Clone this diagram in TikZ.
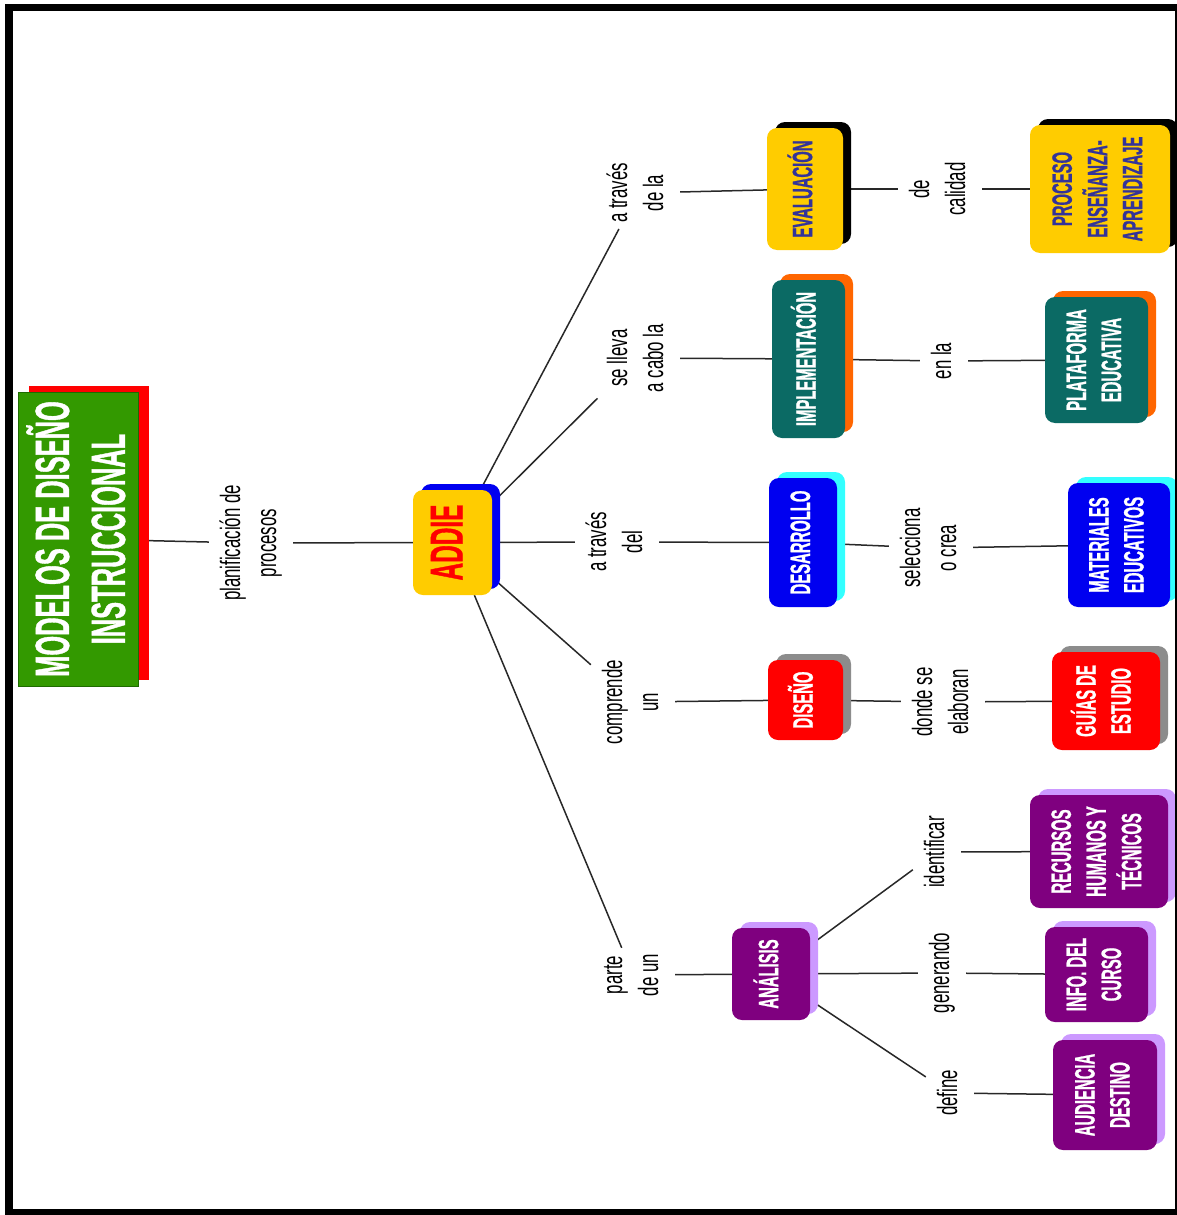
\documentclass[tikz,border=0pt]{standalone}
\usepackage{fontspec}
\usepackage{graphicx}
\usetikzlibrary{shadows,backgrounds}
\setmainfont{Liberation Sans}
\newfontfamily\labfont[FakeStretch=0.6]{Liberation Sans}
\newfontfamily\boxfont[FakeStretch=0.53, BoldFeatures={FakeBold=0.8}]{Liberation Sans}

\definecolor{titlegreen}{HTML}{339900}
\definecolor{titleedge}{HTML}{1E6B00}
\definecolor{cYellow}{HTML}{FFCC00}
\definecolor{cNavy}{HTML}{333399}
\definecolor{cTeal}{HTML}{0B6A64}
\definecolor{cOrange}{HTML}{FF6600}
\definecolor{cBlue}{HTML}{0000F0}
\definecolor{cCyan}{HTML}{33FFFF}
\definecolor{cRed}{HTML}{FF0000}
\definecolor{cGray}{HTML}{8C8C8C}
\definecolor{cPurple}{HTML}{7F007F}
\definecolor{cLilac}{HTML}{CC99FF}
\definecolor{linkgray}{HTML}{282828}

% vertical (bottom-to-top) multi-line text
\newcommand\vtext[1]{\rotatebox{90}{\begin{tabular}{@{}c@{}}#1\end{tabular}}}

\tikzset{
  concept/.style={rounded corners=10pt, inner sep=0pt, text=white,
    font=\boxfont\bfseries\fontsize{28}{35}\selectfont},
  shadowed/.style={general shadow={fill=#1, draw=none, shadow xshift=8pt, shadow yshift=6pt}},
  lab/.style={inner sep=6pt, text=black, font=\labfont\fontsize{28}{36}\selectfont},
  link/.style={draw=linkgray, line width=1.5pt},
}

\begin{document}
\begin{tikzpicture}[x=1pt, y=-1pt]
\useasboundingbox (0,0) rectangle (1177,1215);

% ---- title ----
\node[fill=titlegreen, draw=titleedge, line width=1pt, inner sep=0pt,
      general shadow={fill=cRed, draw=none, shadow xshift=11pt, shadow yshift=6pt},
      minimum width=120pt, minimum height=294pt, text=white,
      font=\boxfont\bfseries\fontsize{48}{56}\selectfont]
  (title) at (78,539)
  {\rotatebox{90}{\raisebox{-6pt}[\height][\depth]{\begin{tabular}{@{}c@{}}MODELOS DE DISEÑO\\INSTRUCCIONAL\end{tabular}}}};

% ---- central concept ----
\node[concept, fill=cYellow, shadowed=cBlue, text=cRed, minimum width=79pt, minimum height=105pt,
      font=\boxfont\bfseries\fontsize{46}{50}\selectfont]
  (addie) at (452.5,542.5) {\vtext{ADDIE}};

% ---- phases ----
\node[concept, fill=cYellow, shadowed=black, text=cNavy, minimum width=76pt, minimum height=122pt]
  (eval) at (805,189) {\vtext{EVALUACIÓN}};
\node[concept, fill=cTeal, shadowed=cOrange, minimum width=73pt, minimum height=158pt]
  (impl) at (808.5,359) {\vtext{IMPLEMENTACIÓN}};
\node[concept, fill=cBlue, shadowed=cCyan, minimum width=68pt, minimum height=129pt]
  (desa) at (803,542.5) {\vtext{DESARROLLO}};
\node[concept, fill=cRed, shadowed=cGray, minimum width=75pt, minimum height=80pt]
  (dise) at (805.5,700) {\vtext{DISEÑO}};
\node[concept, fill=cPurple, shadowed=cLilac, minimum width=78pt, minimum height=92pt]
  (anal) at (771,974) {\vtext{ANÁLISIS}};

% ---- outcomes ----
\node[concept, fill=cYellow, shadowed=black, text=cNavy, minimum width=140pt, minimum height=128pt]
  (proc) at (1100,189) {\vtext{PROCESO\\ENSEÑANZA-\\APRENDIZAJE}};
\node[concept, fill=cTeal, shadowed=cOrange, minimum width=103pt, minimum height=126pt]
  (plat) at (1096.5,360) {\vtext{PLATAFORMA\\EDUCATIVA}};
\node[concept, fill=cBlue, shadowed=cCyan, minimum width=102pt, minimum height=124pt]
  (mate) at (1119,545) {\vtext{MATERIALES\\EDUCATIVOS}};
\node[concept, fill=cRed, shadowed=cGray, minimum width=108pt, minimum height=98pt]
  (guia) at (1106,701) {\vtext{GUÍAS DE\\ESTUDIO}};
\node[concept, fill=cPurple, shadowed=cLilac, minimum width=138pt, minimum height=113pt]
  (recu) at (1099,851.5) {\vtext{RECURSOS\\HUMANOS Y\\TÉCNICOS}};
\node[concept, fill=cPurple, shadowed=cLilac, minimum width=103pt, minimum height=95pt]
  (info) at (1096.5,974.5) {\vtext{INFO. DEL\\CURSO}};
\node[concept, fill=cPurple, shadowed=cLilac, minimum width=104pt, minimum height=110pt]
  (audi) at (1105,1095) {\vtext{AUDIENCIA\\DESTINO}};

% ---- linking phrases ----
\node[lab] (l0) at (251,543) {\vtext{planificación de\\procesos}};
\node[lab] (la) at (638,193) {\vtext{a través\\de la}};
\node[lab] (lb) at (638,358) {\vtext{se lleva\\a cabo la}};
\node[lab] (lc) at (617,542) {\vtext{a través\\del}};
\node[lab] (ld) at (633,702) {\vtext{comprende\\un}};
\node[lab] (le) at (633,975) {\vtext{parte\\de un}};
\node[lab] (lf) at (940,189) {\vtext{de\\calidad}};
\node[lab] (lg) at (944,361) {\vtext{en la}};
\node[lab] (lh) at (931,548) {\vtext{selecciona\\o crea}};
\node[lab] (li) at (943,702) {\vtext{donde se\\elaboran}};
\node[lab] (lj) at (937,852) {\vtext{identificar}};
\node[lab] (lk) at (942,973) {\vtext{generando}};
\node[lab] (ll) at (950,1093) {\vtext{define}};

% ---- connectors (behind the boxes and their shadows) ----
\begin{pgfonlayer}{background}
\fill[white] (0,0) rectangle (1177,1215);
\foreach \a/\b in {title/l0, l0/addie,
    addie/la, la/eval, eval/lf, lf/proc,
    addie/lb, lb/impl, impl/lg, lg/plat,
    addie/lc, lc/desa, desa/lh, lh/mate,
    addie/ld, ld/dise, dise/li, li/guia,
    addie/le, le/anal,
    anal/lj, lj/recu, anal/lk, lk/info, anal/ll, ll/audi}
  \draw[link] (\a) -- (\b);
\end{pgfonlayer}

% ---- page frame ----
\fill[black] (5,4) rectangle (1177,11);
\fill[black] (5,4) rectangle (13,1215);
\fill[black] (5,1209) rectangle (1177,1215);
\fill[black] (1175,4) rectangle (1177,1215);
\end{tikzpicture}
\end{document}
